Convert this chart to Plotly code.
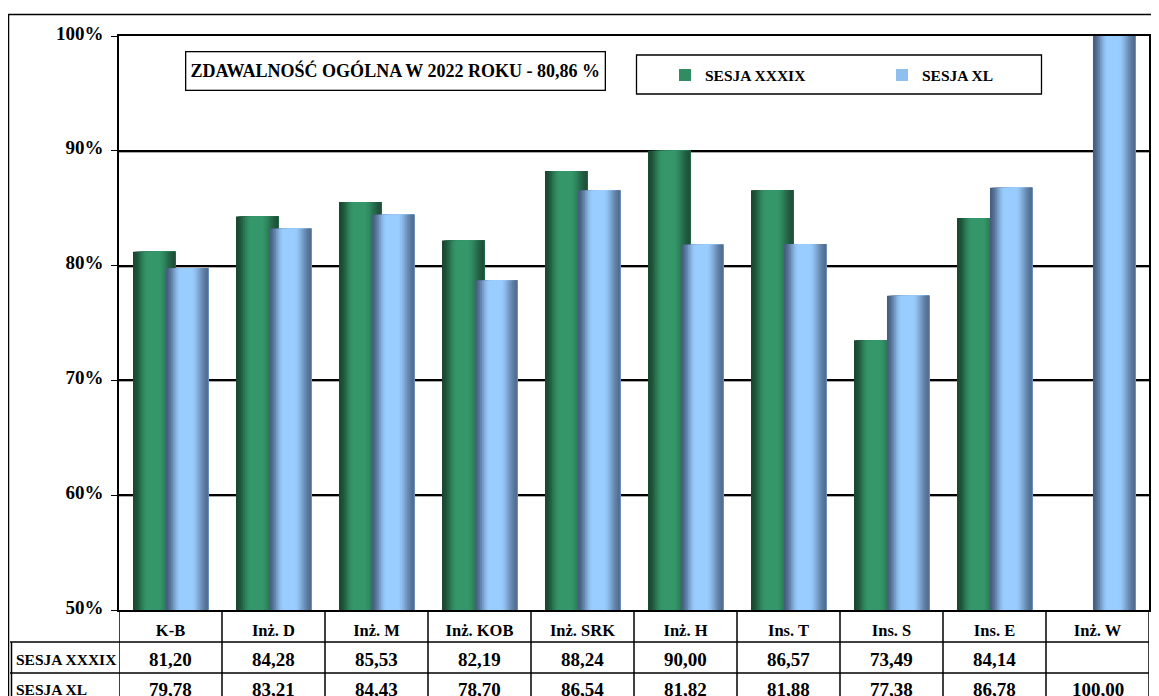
import plotly.graph_objects as go

categories = ["K-B", "Inż. D", "Inż. M", "Inż. KOB", "Inż. SRK", "Inż. H", "Ins. T", "Ins. S", "Ins. E", "Inż. W"]
sesja_xxxix = [81.20, 84.28, 85.53, 82.19, 88.24, 90.00, 86.57, 73.49, 84.14, None]
sesja_xl = [79.78, 83.21, 84.43, 78.70, 86.54, 81.82, 81.88, 77.38, 86.78, 100.00]
series_names = ["SESJA XXXIX", "SESJA XL"]
y_ticks = [50, 60, 70, 80, 90, 100]
y_tick_labels = ["50%", "60%", "70%", "80%", "90%", "100%"]
title_text = "ZDAWALNOŚĆ OGÓLNA W 2022 ROKU - 80,86 %"

OFF = 8  # page body margin
W, H = 1151, 688
L, R, T, B = 111, 10, 28, 86
PW, PH = W - L - R, H - T - B

FONT = "Liberation Serif"


def px_x(p):
    return (p - OFF - L) / PW


def px_y(p):
    return (H - B - (p - OFF)) / PH


def hex2rgb(h):
    h = h.lstrip("#")
    return [int(h[i:i + 2], 16) for i in (0, 2, 4)]


def mix(c1, c2, a):
    a1, a2 = hex2rgb(c1), hex2rgb(c2)
    return "rgb(%d,%d,%d)" % tuple(round(a1[k] + (a2[k] - a1[k]) * a) for k in range(3))


def smooth(x):
    x = max(0.0, min(1.0, x))
    return x * x * (3 - 2 * x)


def profile(t):
    if t < 0.35:
        return smooth(t / 0.35)
    if t < 0.6:
        return 1.0
    return 1.0 - 0.85 * smooth((t - 0.6) / 0.4)


grad = {
    0: ("#1a4630", "#35976a"),
    1: ("#465e7e", "#9acdff"),
}

fig = go.Figure()

bar_w = 0.41
offsets = [-0.364, -0.044]
N = 24
for s, vals in enumerate([sesja_xxxix, sesja_xl]):
    dark, bright = grad[s]
    for i in range(N):
        t = (i + 0.5) / N
        col = mix(dark, bright, profile(t))
        fig.add_trace(go.Bar(
            x=categories, y=vals,
            offset=offsets[s] + i * bar_w / N,
            width=bar_w - i * bar_w / N,
            marker=dict(color=col, line=dict(width=0)),
            name=series_names[s],
            legendgroup=series_names[s],
            showlegend=(i == 6),
            hoverinfo="skip",
        ))

# empty trace to anchor the shadow-grid axis
fig.add_trace(go.Scatter(x=[], y=[], yaxis="y2", showlegend=False))

shift = 1.5 * 50 / PH
fig.update_layout(
    width=W, height=H,
    margin=dict(l=L, r=R, t=T, b=B, pad=0, autoexpand=False),
    paper_bgcolor="white", plot_bgcolor="rgba(0,0,0,0)",
    barmode="overlay",
    font=dict(family=FONT, size=16, color="black"),
    xaxis=dict(
        type="category", range=[-0.5, 9.5],
        showline=True, mirror=True, linecolor="black", linewidth=1.5,
        showgrid=False, ticks="", ticklabelstandoff=4,
        tickfont=dict(family=FONT, size=16.5, color="black", weight="bold"),
        fixedrange=True, automargin=False,
    ),
    yaxis=dict(
        range=[50, 100], tickvals=y_ticks, ticktext=y_tick_labels,
        showline=True, mirror=True, linecolor="black", linewidth=1.5,
        showgrid=True, gridcolor="black", gridwidth=1.5,
        ticks="outside", ticklen=6, tickcolor="black", tickwidth=1.2,
        ticklabelstandoff=4, ticklabelshift=-3,
        tickfont=dict(family=FONT, size=19, color="black", weight="bold"),
        zeroline=False, automargin=False,
    ),
    yaxis2=dict(
        overlaying="y", range=[50 + shift, 100 + shift], tickvals=y_ticks[1:-1],
        showgrid=True, gridcolor="#a8a8a8", gridwidth=1.2,
        showticklabels=False, showline=False, zeroline=False, ticks="",
    ),
    legend=dict(
        orientation="h", x=px_x(665), y=px_y(75.5), xanchor="left", yanchor="middle",
        entrywidth=172, entrywidthmode="pixels",
        font=dict(family=FONT, size=15.5, color="black", weight="bold"),
        bgcolor="rgba(0,0,0,0)", borderwidth=0, itemwidth=30,
    ),
)

shapes = []
line = dict(color="black", width=1.5)
# outer chart border
shapes.append(dict(type="rect", xref="paper", yref="paper",
                   x0=px_x(8.5), x1=px_x(1175), y0=px_y(720), y1=px_y(14.5), line=line))
# legend box
shapes.append(dict(type="rect", xref="paper", yref="paper",
                   x0=px_x(636.5), x1=px_x(1041.5), y0=px_y(94), y1=px_y(55),
                   line=dict(color="black", width=1.3)))
# data table: vertical lines at category boundaries
for k in range(len(categories) + 1):
    shapes.append(dict(type="line", xref="x", yref="paper",
                       x0=k - 0.5, x1=k - 0.5, y0=0, y1=px_y(720), line=line))
# row label column left edge
shapes.append(dict(type="line", xref="paper", yref="paper",
                   x0=px_x(11.5), x1=px_x(11.5), y0=px_y(642), y1=px_y(720), line=line))
# horizontal row lines
for yy in (642, 673):
    shapes.append(dict(type="line", xref="paper", yref="paper",
                       x0=px_x(10), x1=1, y0=px_y(yy), y1=px_y(yy), line=line))
fig.update_layout(shapes=shapes)

ann = []
ann.append(dict(xref="paper", yref="paper", x=px_x(395.5), y=px_y(71.5),
                text="<b>" + title_text + "</b>", showarrow=False,
                font=dict(family=FONT, size=18, color="black"),
                bordercolor="black", borderwidth=1.3, borderpad=4,
                width=410, height=29, xanchor="center", yanchor="middle"))


def fmt(v):
    return "" if v is None else ("%.2f" % v).replace(".", ",")


for row_name, vals, yc in ((series_names[0], sesja_xxxix, 659), (series_names[1], sesja_xl, 689)):
    ann.append(dict(xref="paper", yref="paper", x=px_x(14), y=px_y(yc), text="<b>" + row_name + "</b>",
                    showarrow=False, xanchor="left", yanchor="middle",
                    font=dict(family=FONT, size=15.5, color="black")))
    for c, v in zip(categories, vals):
        if v is None:
            continue
        ann.append(dict(xref="x", yref="paper", x=c, y=px_y(yc), text="<b>" + fmt(v) + "</b>",
                        showarrow=False, xanchor="center", yanchor="middle",
                        font=dict(family=FONT, size=19, color="black")))
fig.update_layout(annotations=ann)

fig.write_html("out.html")
